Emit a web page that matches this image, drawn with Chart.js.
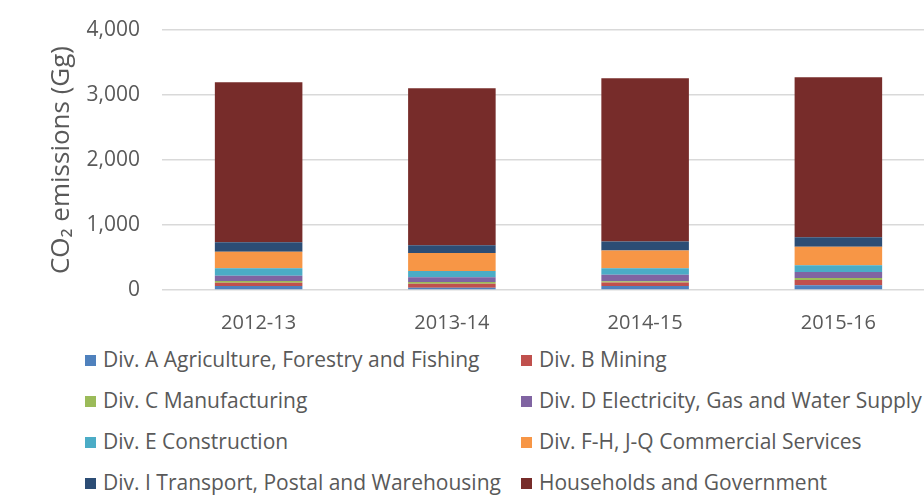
<!DOCTYPE html>
<html>
<head>
<meta charset="utf-8">
<script src="https://cdn.jsdelivr.net/npm/chart.js@4.4.0/dist/chart.umd.min.js"></script>
<style>
  html, body { margin: 0; padding: 0; background: #fff; overflow: hidden; }
  #wrap { position: relative; width: 960px; height: 497px; }
  #chartBox { position: absolute; left: 0; top: 0; width: 960px; height: 345px; }
  #legend { position: absolute; left: 0; top: 0; font-family: "Open Sans", sans-serif; font-size: 21px; color: #595959; }
  .item { position: absolute; white-space: nowrap; height: 28px; line-height: 28px; }
  .box { position: absolute; left: 0; top: 9px; width: 11px; height: 11px; }
  .lbl { position: absolute; left: 18px; top: -1px; }
</style>
</head>
<body>
<div id="wrap">
  <div id="chartBox"><canvas id="main-chart"></canvas></div>
  <div id="legend"></div>
</div>
<script>
// categories + series (Gg CO2), bottom to top of each stack
let years = ['2012-13', '2013-14', '2014-15', '2015-16']
let yTicks = [0, 1000, 2000, 3000, 4000]

let divA = [61, 36, 60, 72]
let divB = [51, 62, 56, 82]
let divC = [26, 26, 20, 31]
let divD = [82, 72, 97, 92]
let divE = [113, 97, 103, 103]
let divFQ = [256, 277, 272, 287]
let divI = [144, 118, 138, 144]
let households = [2462, 2415, 2511, 2461]

let seriesNames = [
  'Div. A Agriculture, Forestry and Fishing',
  'Div. B Mining',
  'Div. C Manufacturing',
  'Div. D Electricity, Gas and Water Supply',
  'Div. E Construction',
  'Div. F-H, J-Q Commercial Services',
  'Div. I Transport, Postal and Warehousing',
  'Households and Government'
]
let seriesData = [divA, divB, divC, divD, divE, divFQ, divI, households]
let colors = ['#4F81BD', '#C0504D', '#9BBB59', '#8064A2', '#4BACC6', '#F79646', '#2C4D75', '#772C2A']

let textGray = '#595959'
let fontFam = '"Open Sans", sans-serif'

let datasets = seriesNames.map(function(name, i) {
  return {
    label: name,
    data: seriesData[i],
    backgroundColor: colors[i],
    borderWidth: 0,
    categoryPercentage: 1,
    barPercentage: 0.453
  }
})

let ctx = document.getElementById('main-chart')

let repChart = new Chart(ctx, {
  type: 'bar',
  data: { labels: years, datasets: datasets },
  options: {
    responsive: true,
    maintainAspectRatio: false,
    animation: false,
    devicePixelRatio: 1,
    layout: { padding: { top: 30, right: 25, left: 0, bottom: 0 } },
    plugins: {
      legend: { display: false },
      tooltip: { enabled: false }
    },
    scales: {
      x: {
        stacked: true,
        grid: { display: false },
        border: { display: false },
        ticks: { color: textGray, font: { family: fontFam, size: 20 }, padding: 13 },
        afterFit: function(scale) { scale.height = 55 }
      },
      y: {
        stacked: true,
        min: 0,
        max: 4000,
        afterBuildTicks: function(scale) { scale.ticks = yTicks.map(v => ({ value: v })) },
        grid: { color: '#D9D9D9', lineWidth: 1.5, drawTicks: false },
        border: { display: false },
        ticks: {
          color: textGray,
          font: { family: fontFam, size: 21 },
          padding: 22,
          callback: v => v.toLocaleString('en-US')
        },
        title: {
          display: true,
          text: 'CO\u2082 emissions (Gg)',
          color: textGray,
          font: { family: fontFam, size: 26 },
          padding: { top: 46, bottom: 0 }
        },
        afterFit: function(scale) {
          scale.width = 162
          // let layout padding decide the top, not the tick label overhang
          scale.paddingTop = 0
          scale.paddingBottom = 0
        }
      }
    }
  }
})

// two-column legend, row-major like the original
let legendRowsY = [346, 387, 428, 469]
let legendColsX = [85, 521]
let leg = document.getElementById('legend')
seriesNames.forEach(function(name, i) {
  let row = Math.floor(i / 2)
  let col = i % 2
  let el = document.createElement('div')
  el.className = 'item'
  el.style.left = legendColsX[col] + 'px'
  el.style.top = legendRowsY[row] + 'px'
  el.innerHTML = '<span class="box" style="background:' + colors[i] + '"></span><span class="lbl"></span>'
  el.querySelector('.lbl').textContent = name
  leg.appendChild(el)
})
</script>
</body>
</html>
